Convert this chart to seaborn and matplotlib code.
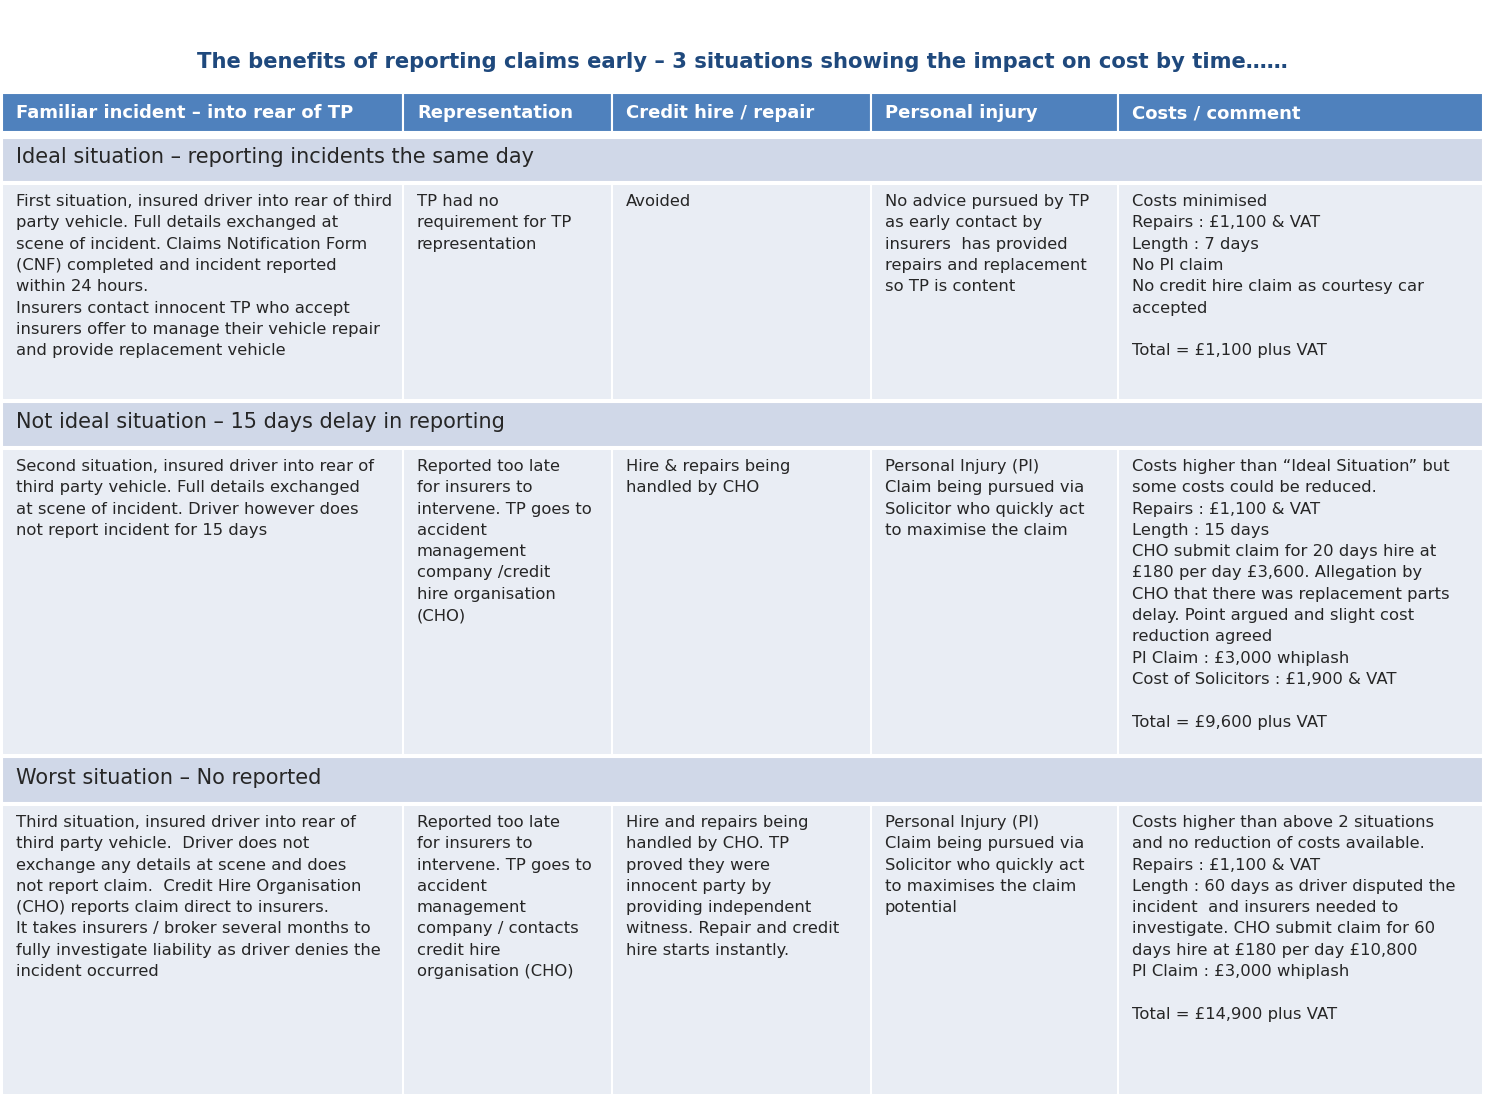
import matplotlib
matplotlib.use("Agg")
import matplotlib.pyplot as plt
from matplotlib.patches import Rectangle
import seaborn as sns

# ---------------- data ----------------
title = "The benefits of reporting claims early \u2013 3 situations showing the impact on cost by time\u2026\u2026"

headers = ["Familiar incident \u2013 into rear of TP", "Representation",
           "Credit hire / repair", "Personal injury", "Costs / comment"]

sections = ["Ideal situation \u2013 reporting incidents the same day",
            "Not ideal situation \u2013 15 days delay in reporting",
            "Worst situation \u2013 No reported"]

incident = [
    ["First situation, insured driver into rear of third",
     "party vehicle. Full details exchanged at",
     "scene of incident. Claims Notification Form",
     "(CNF) completed and incident reported",
     "within 24 hours.",
     "Insurers contact innocent TP who accept",
     "insurers offer to manage their vehicle repair",
     "and provide replacement vehicle"],
    ["Second situation, insured driver into rear of",
     "third party vehicle. Full details exchanged",
     "at scene of incident. Driver however does",
     "not report incident for 15 days"],
    ["Third situation, insured driver into rear of",
     "third party vehicle.  Driver does not",
     "exchange any details at scene and does",
     "not report claim.  Credit Hire Organisation",
     "(CHO) reports claim direct to insurers.",
     "It takes insurers / broker several months to",
     "fully investigate liability as driver denies the",
     "incident occurred"],
]

representation = [
    ["TP had no", "requirement for TP", "representation"],
    ["Reported too late", "for insurers to", "intervene. TP goes to",
     "accident", "management", "company /credit", "hire organisation", "(CHO)"],
    ["Reported too late", "for insurers to", "intervene. TP goes to",
     "accident", "management", "company / contacts", "credit hire",
     "organisation (CHO)"],
]

credit_hire = [
    ["Avoided"],
    ["Hire & repairs being", "handled by CHO"],
    ["Hire and repairs being", "handled by CHO. TP", "proved they were",
     "innocent party by", "providing independent", "witness. Repair and credit",
     "hire starts instantly."],
]

personal_injury = [
    ["No advice pursued by TP", "as early contact by", "insurers  has provided",
     "repairs and replacement", "so TP is content"],
    ["Personal Injury (PI)", "Claim being pursued via", "Solicitor who quickly act",
     "to maximise the claim"],
    ["Personal Injury (PI)", "Claim being pursued via", "Solicitor who quickly act",
     "to maximises the claim", "potential"],
]

costs = [
    ["Costs minimised", "Repairs : \u00a31,100 & VAT", "Length : 7 days", "No PI claim",
     "No credit hire claim as courtesy car", "accepted", "",
     "Total = \u00a31,100 plus VAT"],
    ["Costs higher than \u201cIdeal Situation\u201d but", "some costs could be reduced.",
     "Repairs : \u00a31,100 & VAT", "Length : 15 days",
     "CHO submit claim for 20 days hire at", "\u00a3180 per day \u00a33,600. Allegation by",
     "CHO that there was replacement parts", "delay. Point argued and slight cost",
     "reduction agreed", "PI Claim : \u00a33,000 whiplash",
     "Cost of Solicitors : \u00a31,900 & VAT", "", "Total = \u00a39,600 plus VAT"],
    ["Costs higher than above 2 situations", "and no reduction of costs available.",
     "Repairs : \u00a31,100 & VAT", "Length : 60 days as driver disputed the",
     "incident  and insurers needed to", "investigate. CHO submit claim for 60",
     "days hire at \u00a3180 per day \u00a310,800", "PI Claim : \u00a33,000 whiplash", "",
     "Total = \u00a314,900 plus VAT"],
]

columns_content = [incident, representation, credit_hire, personal_injury, costs]

# ---------------- layout (pixels) ----------------
W, H = 1488, 1099
col_edges = [2, 403, 612, 871, 1118, 1483]
header_band = (93, 132)
section_bands = [(138, 182), (402, 447), (757, 803)]
content_bands = [(184, 400), (449, 755), (805, 1095)]
section_baselines = [163, 428, 784]
first_baseline = [206, 471, 827]
line_step = 21.3
pad_x = 14

HEADER_BLUE = "#4F81BD"
SECTION_FILL = "#D0D8E8"
CONTENT_FILL = "#E9EDF4"
TITLE_BLUE = "#1F497D"
TEXT = "#262626"

sns.set_theme(style="white")
plt.rcParams["font.family"] = ["DejaVu Sans"]

fig = plt.figure(figsize=(W / 100, H / 100), dpi=100)
ax = fig.add_axes([0, 0, 1, 1])
ax.set_xlim(0, W)
ax.set_ylim(H, 0)
ax.axis("off")
fig.patch.set_facecolor("white")


def cell(x0, x1, y0, y1, color):
    ax.add_patch(Rectangle((x0, y0), x1 - x0, y1 - y0, facecolor=color,
                           edgecolor="white", linewidth=1.5))


# title
ax.text(742, 68, title, ha="center", va="baseline", fontsize=15.2,
        fontweight="bold", color=TITLE_BLUE)

# header row
for i, h in enumerate(headers):
    x0, x1 = col_edges[i], col_edges[i + 1]
    cell(x0, x1, header_band[0], header_band[1], HEADER_BLUE)
    ax.text(x0 + pad_x, 118, h, ha="left", va="baseline", fontsize=13.0,
            fontweight="bold", color="white")

# sections and content
for r in range(3):
    s0, s1 = section_bands[r]
    cell(col_edges[0], col_edges[-1], s0, s1, SECTION_FILL)
    ax.text(col_edges[0] + pad_x, section_baselines[r], sections[r], ha="left",
            va="baseline", fontsize=15.0, color=TEXT)
    c0, c1 = content_bands[r]
    for c in range(5):
        x0, x1 = col_edges[c], col_edges[c + 1]
        cell(x0, x1, c0, c1, CONTENT_FILL)
        for k, line in enumerate(columns_content[c][r]):
            if line:
                ax.text(x0 + pad_x, first_baseline[r] + k * line_step, line,
                        ha="left", va="baseline", fontsize=11.8, color=TEXT)

fig.savefig("out.png", dpi=100, facecolor="white")
